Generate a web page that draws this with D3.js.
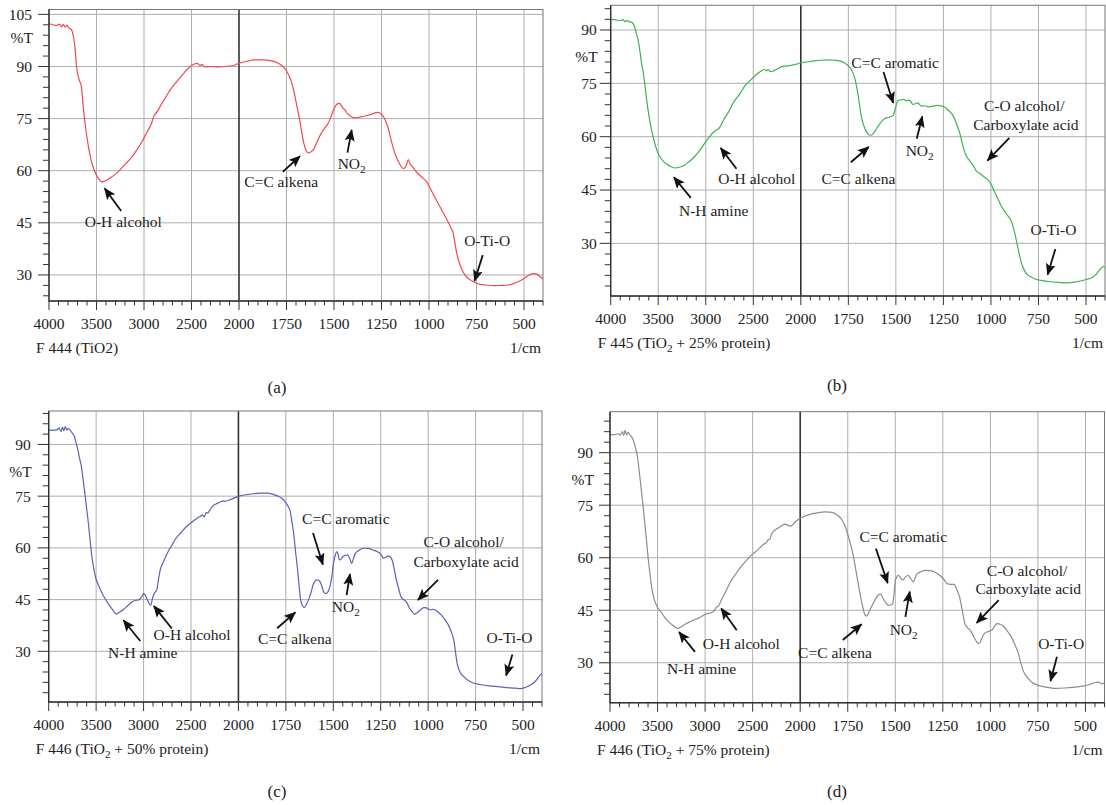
<html>
<head>
<meta charset="utf-8">
<script src="https://d3js.org/d3.v7.min.js"></script>
<style>
  body { margin: 0; background: #fff; }
  svg text { font-family: "Liberation Serif", "Times New Roman", Times, serif; fill: #222; }
</style>
</head>
<body>
<svg id="svg" width="1106" height="805" font-family="Liberation Serif, serif"></svg>
<script>
'use strict';

// x ticks (1/cm) and y ticks (%T)
const wnTicks = [4000, 3500, 3000, 2500, 2000, 1750, 1500, 1250, 1000, 750, 500];
const tTicks = [30, 45, 60, 75, 90, 105];

// F 444 (TiO2)
const spectrumA = [[4000,102.3],[3960,102.0],[3920,101.8],[3890,102.2],[3870,101.4],[3850,102.1],[3830,101.3],[3810,101.9],[3790,101.0],[3770,100.8],[3755,100.0],[3740,98.2],[3725,95.0],[3712,90.5],[3700,88.0],[3680,86.0],[3658,84],[3640,78.5],[3628,75.4],[3605,70.5],[3584,66.8],[3560,63.5],[3535,61],[3505,59],[3480,57.7],[3442,56.8],[3400,57.2],[3368,57.7],[3310,58.8],[3257,60.1],[3200,61.8],[3145,63.4],[3080,65.8],[3015,68.7],[2965,71.3],[2922,73.5],[2900,75.5],[2866,76.8],[2820,79.0],[2773,81.1],[2720,83.4],[2662,85.4],[2590,87.8],[2513,90.0],[2470,90.7],[2439,90.9],[2410,90.3],[2390,90.6],[2364,89.9],[2300,90.0],[2216,89.9],[2140,90.0],[2067,90.2],[2020,90.7],[1978,91.3],[1950,91.6],[1922,91.9],[1880,91.9],[1829,91.6],[1800,91.1],[1773,90.2],[1750,88.7],[1736,87.3],[1722,85.2],[1708,82.1],[1694,78.2],[1680,74.4],[1668,70.5],[1658,67.7],[1645,65.6],[1634,65.1],[1620,65.5],[1606,66.3],[1588,68.5],[1569,70.6],[1550,72.2],[1532,73.5],[1518,75.2],[1504,77.3],[1490,78.8],[1476,79.4],[1466,79.2],[1457,78.3],[1443,77.5],[1429,76.4],[1410,75.6],[1392,75.2],[1360,75.5],[1327,75.9],[1300,76.3],[1272,76.8],[1258,76.6],[1244,75.9],[1230,74.5],[1216,72.5],[1198,68.5],[1179,64.9],[1160,62.5],[1133,60.6],[1120,61.5],[1109,63.2],[1100,62.0],[1086,61.1],[1072,60.0],[1058,59.2],[1035,58.0],[1012,56.8],[985,54.0],[956,51.0],[928,48.2],[900,45.3],[885,43.6],[872,41.9],[863,39.0],[854,36.2],[840,33.5],[826,31.4],[808,29.8],[789,28.8],[760,27.9],[733,27.3],[700,27.1],[659,26.9],[620,27.0],[584,27.1],[555,27.5],[528,28.1],[500,29.0],[472,30.0],[450,30.4],[435,30.3],[420,29.7],[407,29.1],[400,28.8]];

// F 445 (TiO2 + 25% protein)
const spectrumB = [[4000,93.0],[3950,92.9],[3900,92.6],[3870,92.9],[3850,92.3],[3830,92.7],[3800,92.2],[3786,92.3],[3765,91.8],[3749,90.9],[3730,89.0],[3712,87.2],[3695,84.5],[3675,80.6],[3660,78.5],[3638,74.0],[3620,70.0],[3601,66.5],[3575,62.5],[3545,59.0],[3515,56.3],[3490,54.7],[3450,53.2],[3416,52.4],[3370,51.6],[3324,51.2],[3280,51.4],[3231,51.9],[3180,52.9],[3121,54.3],[3065,56.1],[3010,58.2],[2960,60.0],[2917,61.3],[2890,61.8],[2862,62.3],[2810,64.8],[2751,67.4],[2700,70.0],[2640,72.1],[2585,74.4],[2529,75.9],[2470,77.4],[2418,78.5],[2380,78.9],[2360,78.5],[2344,78.9],[2320,78.3],[2289,78.5],[2240,79.2],[2196,79.7],[2120,80.0],[2048,80.4],[2000,80.8],[1968,81.0],[1930,81.3],[1894,81.5],[1850,81.6],[1820,81.5],[1783,81.1],[1765,80.6],[1746,79.7],[1730,78.5],[1718,76.8],[1708,74.5],[1700,72.1],[1690,68.5],[1681,65.5],[1672,63.6],[1663,62.3],[1650,61.0],[1635,60.4],[1620,60.8],[1607,61.8],[1590,63.2],[1570,64.6],[1555,65.2],[1542,65.4],[1528,65.6],[1514,66.0],[1505,67.5],[1496,69.3],[1487,70.3],[1477,70.3],[1460,70.5],[1445,70.1],[1431,70.3],[1420,69.8],[1412,69.1],[1395,69.3],[1384,69.5],[1375,69.0],[1366,68.6],[1350,68.7],[1329,68.4],[1305,68.6],[1283,68.8],[1265,68.7],[1246,68.4],[1225,67.5],[1200,66.0],[1180,63.5],[1163,60.8],[1150,58.0],[1135,55.2],[1120,53.8],[1107,52.9],[1092,51.8],[1079,50.5],[1055,49.5],[1033,48.6],[1018,48.0],[1005,47.2],[985,45.0],[968,43.0],[950,41.0],[931,39.2],[912,37.8],[894,36.4],[880,34.0],[866,30.8],[852,27.2],[838,24.2],[824,22.4],[810,21.3],[790,20.6],[764,19.9],[730,19.5],[690,19.2],[640,19.0],[597,18.9],[560,19.1],[523,19.5],[495,19.9],[468,20.4],[452,21.0],[440,21.8],[428,22.6],[416,23.3],[408,23.5],[403,23.2],[400,23.3]];

// F 446 (TiO2 + 50% protein)
const spectrumC = [[4000,94.2],[3960,94.1],[3915,94.2],[3890,94.8],[3870,93.8],[3855,95.0],[3841,94.0],[3825,95.2],[3810,94.2],[3790,94.6],[3767,93.9],[3750,93.2],[3730,92.4],[3712,90.5],[3693,88.5],[3675,86.0],[3656,83.7],[3638,80.0],[3619,75.9],[3600,71.5],[3582,67.2],[3563,62.0],[3545,57.5],[3526,54.2],[3508,51.7],[3480,49.5],[3453,47.8],[3425,46.2],[3397,44.9],[3360,43.3],[3323,41.9],[3305,41.2],[3286,40.8],[3250,41.4],[3212,42.1],[3165,43.3],[3120,44.4],[3080,44.8],[3046,45.0],[3020,45.8],[2998,46.8],[2980,46.2],[2961,45.0],[2940,43.8],[2924,43.4],[2905,45.5],[2887,46.8],[2875,47.3],[2861,47.8],[2845,50.5],[2824,53.6],[2790,56.0],[2751,58.4],[2705,60.6],[2658,62.8],[2600,64.6],[2547,66.2],[2490,67.5],[2436,68.6],[2400,69.2],[2381,69.6],[2360,69.0],[2340,70.3],[2325,70.1],[2300,71.0],[2270,72.2],[2220,72.9],[2177,73.5],[2130,73.6],[2085,74.0],[2040,74.5],[1996,75.0],[1960,75.4],[1922,75.7],[1885,75.9],[1848,75.9],[1820,75.6],[1792,75.0],[1772,74.4],[1755,73.5],[1740,72.2],[1727,70.6],[1718,67.5],[1709,64.3],[1700,59.5],[1690,54.6],[1681,49.5],[1672,44.9],[1663,43.2],[1653,42.7],[1640,43.8],[1625,45.8],[1615,47.5],[1607,49.2],[1598,50.2],[1588,50.7],[1578,50.6],[1570,50.2],[1560,48.8],[1551,47.3],[1542,46.8],[1536,46.8],[1527,47.4],[1518,48.7],[1508,51.5],[1499,55.5],[1490,57.8],[1481,58.9],[1474,58.0],[1468,56.5],[1458,56.8],[1449,57.5],[1437,57.8],[1425,58.0],[1414,57.0],[1403,55.5],[1394,56.8],[1384,58.4],[1370,59.1],[1356,59.6],[1340,59.9],[1329,59.9],[1310,59.8],[1291,59.4],[1272,59.0],[1254,58.4],[1245,57.8],[1236,57.0],[1222,57.3],[1208,57.7],[1198,57.3],[1190,56.5],[1180,54.2],[1171,51.6],[1157,48.5],[1143,45.8],[1130,45.0],[1116,44.4],[1106,43.4],[1097,42.4],[1085,41.5],[1073,40.8],[1058,41.2],[1041,42.0],[1027,42.6],[1013,42.7],[1000,42.3],[986,42.0],[976,42.2],[967,42.1],[950,41.5],[930,40.5],[912,39.2],[893,37.6],[878,35.6],[865,33.2],[856,29.8],[847,26.4],[830,23.8],[810,22.5],[790,21.6],[763,20.8],[720,20.3],[661,19.9],[610,19.6],[568,19.4],[540,19.3],[513,19.2],[495,19.4],[476,19.8],[458,20.3],[439,21.1],[425,22.0],[411,23.0],[400,23.6]];

// F 446 (TiO2 + 75% protein)
const spectrumD = [[4000,95.2],[3960,95.1],[3915,95.4],[3890,95.0],[3870,96.0],[3855,94.9],[3841,96.4],[3825,95.0],[3810,95.8],[3785,94.9],[3765,94.2],[3748,93.0],[3730,91.2],[3711,88.8],[3692,84.5],[3674,80.2],[3655,75.5],[3637,70.7],[3618,65.5],[3600,60.2],[3580,55.5],[3563,51.7],[3545,49.2],[3526,47.4],[3500,45.8],[3470,44.8],[3440,43.6],[3415,42.6],[3380,41.6],[3341,40.7],[3310,40.1],[3285,39.8],[3250,40.3],[3211,41.0],[3160,41.7],[3119,42.2],[3080,42.6],[3044,43.1],[3000,43.8],[2970,44.1],[2935,44.3],[2896,45.2],[2880,45.9],[2859,46.2],[2825,48.2],[2785,50.3],[2730,53.2],[2674,55.5],[2620,57.5],[2563,59.3],[2510,60.8],[2452,62.1],[2410,63.2],[2378,64.0],[2355,64.3],[2341,65.0],[2320,65.3],[2300,66.8],[2285,67.4],[2250,68.2],[2211,68.8],[2180,69.4],[2156,69.6],[2125,69.2],[2100,69.0],[2060,70.0],[2007,71.2],[1975,71.9],[1948,72.4],[1910,72.8],[1873,73.1],[1845,73.0],[1817,72.6],[1798,71.9],[1779,70.7],[1765,69.2],[1751,66.9],[1737,64.2],[1723,61.2],[1709,57.0],[1695,52.6],[1683,49.0],[1671,46.0],[1662,44.0],[1652,43.3],[1641,44.2],[1630,45.5],[1616,47.0],[1602,48.4],[1590,49.3],[1577,49.6],[1568,48.8],[1559,47.9],[1547,46.9],[1536,46.4],[1524,46.5],[1514,46.9],[1506,50.0],[1499,53.6],[1491,54.7],[1484,55.0],[1473,54.3],[1462,53.6],[1448,54.4],[1434,55.0],[1420,54.2],[1405,53.1],[1396,54.2],[1387,55.3],[1365,56.0],[1340,56.4],[1316,56.3],[1293,55.9],[1275,55.3],[1256,54.5],[1242,53.6],[1228,52.6],[1210,52.4],[1190,52.4],[1176,50.8],[1162,48.8],[1148,45.0],[1134,41.2],[1120,40.0],[1106,39.3],[1092,37.9],[1078,36.5],[1068,35.7],[1059,35.5],[1045,37.0],[1031,38.4],[1012,38.9],[993,39.3],[980,40.3],[965,41.2],[948,41.0],[928,40.3],[910,39.0],[890,37.4],[872,35.3],[853,32.7],[840,29.9],[825,27.4],[800,25.5],[778,24.3],[750,23.6],[722,23.2],[690,22.9],[657,22.7],[610,22.8],[563,23.0],[535,23.2],[507,23.4],[478,23.8],[451,24.3],[430,24.5],[415,24.0],[404,24.1],[400,24.2]];

// peak labels: text anchor and arrow, in (1/cm, %T)
const annotA = [
	{text: 'O-H alcohol', at: [3218, 45.3], from: [3240, 48.4], to: [3414, 54.9]},
	{text: 'C=C alkena', at: [1778, 56.8], from: [1769, 59.7], to: [1679, 64.2]},
	{text: 'NO|2', at: [1407, 62.1], from: [1429, 65.2], to: [1407, 71.7]},
	{text: 'O-Ti-O', at: [694, 39.8], from: [717, 35.7], to: [760, 28.3]}
];
const annotB = [
	{text: 'C=C aromatic', at: [1504, 80.9], from: [1565, 78.2], to: [1514, 69.5]},
	{text: 'O-H alcohol', at: [2463, 48.3], from: [2677, 51.0], to: [2843, 56.8]},
	{text: 'N-H amine', at: [2917, 39.2], from: [3157, 42.8], to: [3335, 48.6]},
	{text: 'C=C alkena', at: [1697, 48.1], from: [1737, 52.8], to: [1643, 57.1]},
	{text: 'NO|2', at: [1375, 56.0], from: [1390, 59.4], to: [1361, 65.7]},
	{text: 'C-O alcohol/', at: [825, 68.8]},
	{text: 'Carboxylate acid', at: [816, 63.5], from: [903, 59.7], to: [1018, 53.3]},
	{text: 'O-Ti-O', at: [671, 33.9], from: [661, 28.4], to: [702, 21.2]}
];
const annotC = [
	{text: 'C=C aromatic', at: [1434, 68.4], from: [1607, 64.3], to: [1555, 55.2]},
	{text: 'N-H amine', at: [3009, 29.7], from: [3035, 33.0], to: [3212, 39.0]},
	{text: 'O-H alcohol', at: [2488, 34.9], from: [2702, 36.6], to: [2891, 43.1]},
	{text: 'C=C alkena', at: [1703, 33.8], from: [1796, 36.7], to: [1700, 41.3]},
	{text: 'NO|2', at: [1434, 42.9], from: [1430, 46.3], to: [1412, 52.4]},
	{text: 'C-O alcohol/', at: [813, 61.8]},
	{text: 'Carboxylate acid', at: [800, 56.0], from: [948, 50.7], to: [1054, 44.9]},
	{text: 'O-Ti-O', at: [571, 33.9], from: [556, 29.1], to: [589, 23.0]}
];
const annotD = [
	{text: 'C=C aromatic', at: [1458, 66.1], from: [1602, 62.6], to: [1540, 52.8]},
	{text: 'O-H alcohol', at: [2619, 35.5], from: [2667, 39.3], to: [2830, 45.5]},
	{text: 'N-H amine', at: [3037, 28.4], from: [3107, 33.1], to: [3274, 38.8]},
	{text: 'C=C alkena', at: [1817, 33.0], from: [1776, 36.5], to: [1677, 41.0]},
	{text: 'NO|2', at: [1456, 39.5], from: [1447, 43.1], to: [1424, 50.3]},
	{text: 'C-O alcohol/', at: [807, 56.4]},
	{text: 'Carboxylate acid', at: [801, 51.2], from: [956, 47.9], to: [1072, 41.4]},
	{text: 'O-Ti-O', at: [628, 35.5], from: [650, 31.7], to: [684, 24.8]}
];

const titles = ['F 444 (TiO2)', 'F 445 (TiO|2| + 25% protein)', 'F 446 (TiO|2| + 50% protein)', 'F 446 (TiO|2| + 75% protein)'];
const captions = ['(a)', '(b)', '(c)', '(d)'];
const yDomains = [[22.5, 106.4], [15.2, 96.95], [15.3, 99.7], [18.6, 101.7]];

// layout of the four panels
const panels = [
	{left: 49, right: 543, top: 9.5, bottom: 301, lab: 17, capX: 277, capY: 387, color: '#ee4a4d', data: spectrumA, notes: annotA},
	{left: 610.7, right: 1105, top: 5.3, bottom: 296, lab: 14, capX: 837, capY: 385, color: '#3fb14e', data: spectrumB, notes: annotB},
	{left: 48.7, right: 542, top: 411, bottom: 702, lab: 18, capX: 277, capY: 791, color: '#5c60b8', data: spectrumC, notes: annotC},
	{left: 610, right: 1104.5, top: 411.7, bottom: 702.7, lab: 17, capX: 837, capY: 791, color: '#8c8c8c', data: spectrumD, notes: annotD}
];

const fs = 15.5;
const svg = d3.select('#svg');
svg.append('rect').attr('width', 1106).attr('height', 805).attr('fill', '#fff');

svg.append('defs').append('marker')
	.attr('id', 'head')
	.attr('markerUnits', 'userSpaceOnUse')
	.attr('viewBox', '0 0 12 10')
	.attr('refX', 11).attr('refY', 5)
	.attr('markerWidth', 12).attr('markerHeight', 10)
	.attr('orient', 'auto')
	.append('path')
	.attr('d', 'M0,0 L12,5 L0,10 L2.5,5 z')
	.attr('fill', '#111');

// text with "|" marking subscript parts
function richText(sel, str, size) {
	const parts = str.split('|');
	parts.forEach((p, i) => {
		const t = sel.append('tspan').text(p);
		if (i % 2 === 1) {
			t.attr('font-size', size * 0.72).attr('dy', 4);
		} else if (i > 0) {
			t.attr('dy', -4);
		}
	});
}

function drawPanel(p, idx) {
	const g = svg.append('g');
	const mid = p.left + (p.right - p.left) * 2000 / 5200;
	const x = d3.scaleLinear().domain([4000, 2000, 400]).range([p.left, mid, p.right]);
	const y = d3.scaleLinear().domain(yDomains[idx]).range([p.bottom, p.top]);
	const [y0, y1] = yDomains[idx];
	const yMajor = tTicks.filter(v => v >= y0 && v <= y1);

	// grid
	g.append('g').selectAll('line').data(yMajor).join('line')
		.attr('x1', p.left).attr('x2', p.right)
		.attr('y1', d => y(d)).attr('y2', d => y(d))
		.attr('stroke', '#aeaeae').attr('stroke-width', 1);
	g.append('g').selectAll('line').data(wnTicks.filter(v => v !== 4000)).join('line')
		.attr('x1', d => x(d)).attr('x2', d => x(d))
		.attr('y1', p.top).attr('y2', p.bottom)
		.attr('stroke', d => d === 2000 ? '#333' : '#aeaeae')
		.attr('stroke-width', d => d === 2000 ? 1.6 : 1);

	// frame
	g.append('rect')
		.attr('x', p.left).attr('y', p.top)
		.attr('width', p.right - p.left).attr('height', p.bottom - p.top)
		.attr('fill', 'none').attr('stroke', '#777').attr('stroke-width', 1);

	// spectrum
	const clipId = 'clip' + idx;
	g.append('clipPath').attr('id', clipId).append('rect')
		.attr('x', p.left).attr('y', p.top)
		.attr('width', p.right - p.left).attr('height', p.bottom - p.top);
	g.append('path')
		.datum(p.data)
		.attr('clip-path', `url(#${clipId})`)
		.attr('fill', 'none')
		.attr('stroke', p.color)
		.attr('stroke-width', 1.2)
		.attr('d', d3.line().x(d => x(d[0])).y(d => y(d[1])).curve(d3.curveMonotoneX));

	// axes
	g.append('line').attr('x1', p.left).attr('x2', p.left).attr('y1', p.top).attr('y2', p.bottom + 0.5)
		.attr('stroke', '#333').attr('stroke-width', 1.4);
	g.append('line').attr('x1', p.left).attr('x2', p.right).attr('y1', p.bottom).attr('y2', p.bottom)
		.attr('stroke', '#333').attr('stroke-width', 1.4);

	const yMinor = d3.range(Math.ceil(y0 / 3) * 3, y1, 3);
	g.append('g').selectAll('line').data(yMinor).join('line')
		.attr('x1', d => p.left - (yMajor.includes(d) ? 11 : 6)).attr('x2', p.left)
		.attr('y1', d => y(d)).attr('y2', d => y(d))
		.attr('stroke', '#333').attr('stroke-width', 1);

	const xMinor = d3.range(4000, 2000, -100).concat(d3.range(2000, 399, -50));
	g.append('g').selectAll('line').data(xMinor).join('line')
		.attr('x1', d => x(d)).attr('x2', d => x(d))
		.attr('y1', p.bottom).attr('y2', d => p.bottom + (wnTicks.includes(d) ? 9 : 4.5))
		.attr('stroke', '#333').attr('stroke-width', 1);

	// tick labels
	g.append('g').selectAll('text').data(yMajor).join('text')
		.attr('x', p.left - p.lab).attr('y', d => y(d)).attr('dy', '0.35em')
		.attr('text-anchor', 'end').attr('font-size', fs)
		.text(d => d);
	g.append('text')
		.attr('x', p.left - p.lab + 1).attr('y', y(yMajor[yMajor.length - 1]) + (idx === 0 ? 23 : 27)).attr('dy', '0.35em')
		.attr('text-anchor', 'end').attr('font-size', fs)
		.text('%T');
	g.append('g').selectAll('text').data(wnTicks).join('text')
		.attr('x', d => x(d)).attr('y', p.bottom + 23).attr('dy', '0.35em')
		.attr('text-anchor', 'middle').attr('font-size', fs)
		.text(d => d);

	const sub = g.append('text')
		.attr('x', p.left - 13).attr('y', p.bottom + 47).attr('dy', '0.35em')
		.attr('font-size', fs);
	richText(sub, titles[idx], fs);
	g.append('text')
		.attr('x', p.right - 2).attr('y', p.bottom + 47).attr('dy', '0.35em')
		.attr('text-anchor', 'end').attr('font-size', fs)
		.text('1/cm');
	g.append('text')
		.attr('x', p.capX).attr('y', p.capY).attr('dy', '0.35em')
		.attr('text-anchor', 'middle').attr('font-size', 17)
		.text(captions[idx]);

	// peak annotations
	for (const n of p.notes) {
		const t = g.append('text')
			.attr('x', x(n.at[0])).attr('y', y(n.at[1])).attr('dy', '0.35em')
			.attr('text-anchor', 'middle').attr('font-size', fs);
		richText(t, n.text, fs);
		if (n.from) {
			g.append('line')
				.attr('x1', x(n.from[0])).attr('y1', y(n.from[1]))
				.attr('x2', x(n.to[0])).attr('y2', y(n.to[1]))
				.attr('stroke', '#111').attr('stroke-width', 1.8)
				.attr('marker-end', 'url(#head)');
		}
	}
}

panels.forEach(drawPanel);
</script>
</body>
</html>
